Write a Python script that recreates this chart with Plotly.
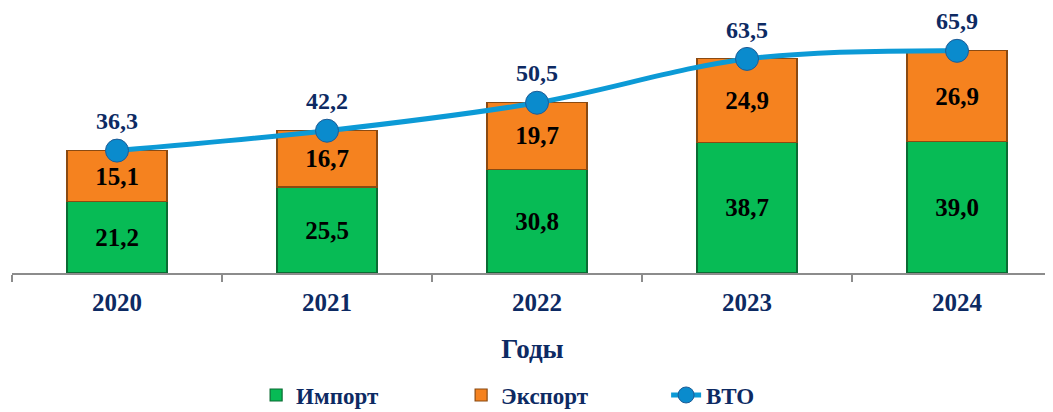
import plotly.graph_objects as go

years = ["2020", "2021", "2022", "2023", "2024"]
imports = [21.2, 25.5, 30.8, 38.7, 39.0]
exports = [15.1, 16.7, 19.7, 24.9, 26.9]
vto = [36.3, 42.2, 50.5, 63.5, 65.9]

def fmt(v):
    return f"{v:.1f}".replace(".", ",")

NAVY = "#0D2A63"
SERIF = "Liberation Serif, Times New Roman, serif"

fig = go.Figure()
fig.add_trace(go.Bar(
    x=years, y=imports, name="Импорт",
    marker=dict(color="#07BB55", line=dict(color="#0B6B33", width=1.2)),
    text=[fmt(v) for v in imports], textposition="inside",
    insidetextanchor="middle", textangle=0,
    textfont=dict(family=SERIF, size=25, color="black", weight="bold"),
))
fig.add_trace(go.Bar(
    x=years, y=exports, name="Экспорт",
    marker=dict(color="#F5821F", line=dict(color="#8A4A12", width=1.2)),
    text=[fmt(v) for v in exports], textposition="inside",
    insidetextanchor="middle", textangle=0,
    textfont=dict(family=SERIF, size=25, color="black", weight="bold"),
))
fig.add_trace(go.Scatter(
    x=years, y=vto, name="ВТО", mode="lines+markers+text",
    line=dict(color="#0C9AD6", width=5, shape="spline", smoothing=1),
    marker=dict(size=23, color="#0A8BCD", line=dict(color="#1E5C96", width=1)),
    text=[fmt(v) for v in vto], textposition="top center",
    textfont=dict(family=SERIF, size=24, color=NAVY, weight="bold"),
    cliponaxis=False,
))

fig.update_layout(
    width=1045, height=404,
    margin=dict(l=4, r=0, t=0, b=139, autoexpand=False),
    barmode="stack", bargap=0.524,
    plot_bgcolor="white", paper_bgcolor="white",
    font=dict(family=SERIF, color=NAVY),
    showlegend=True,
    legend=dict(
        orientation="h", x=0.2345, xanchor="left",
        yref="container", y=0.042, yanchor="middle",
        font=dict(family=SERIF, size=23, color=NAVY, weight="bold"),
        entrywidth=160, entrywidthmode="pixels",
        traceorder="normal",
    ),
    xaxis=dict(
        range=[-0.5, 4.457], showline=True, linecolor="#8C8C8C", linewidth=2,
        ticks="outside", tickson="boundaries", ticklen=7, tickcolor="#8C8C8C",
        tickwidth=2, showgrid=False, automargin=False,
        tickfont=dict(family=SERIF, size=25, color=NAVY, weight="bold"),
        ticklabelstandoff=6,
        title=dict(text="Годы", standoff=24,
                   font=dict(family=SERIF, size=27, color=NAVY, weight="bold")),
    ),
    yaxis=dict(range=[0, 78.6], visible=False),
)

fig.write_html("out.html")
